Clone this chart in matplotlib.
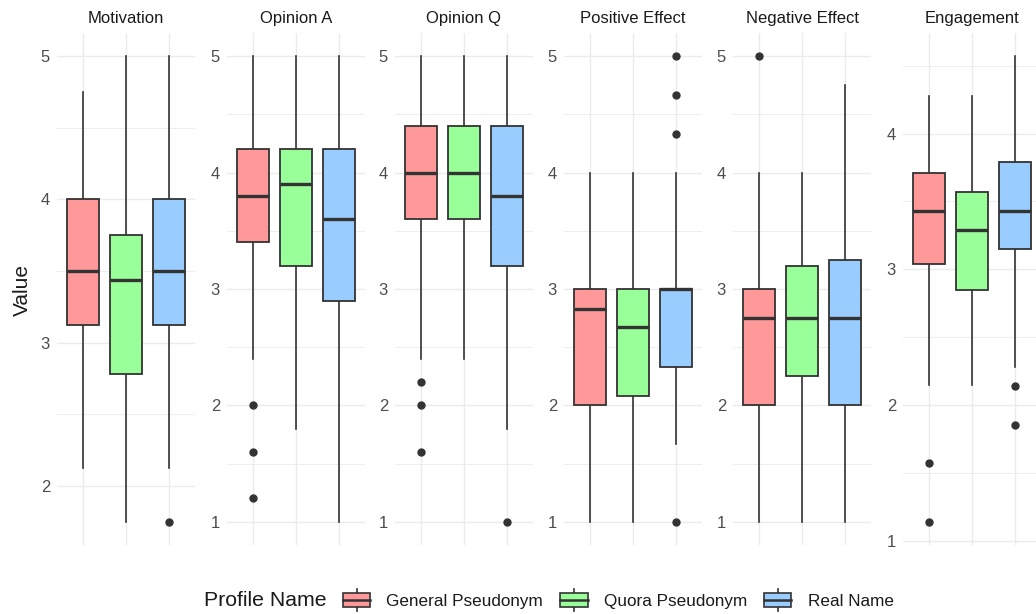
import numpy as np
import matplotlib
matplotlib.use('Agg')
from matplotlib import pyplot as plt
from matplotlib.patches import Patch, Rectangle
from matplotlib.lines import Line2D
from matplotlib.legend_handler import HandlerBase
from matplotlib.offsetbox import HPacker

plt.rcParams['font.family'] = ['Liberation Sans', 'DejaVu Sans']

groups = ['General Pseudonym', 'Quora Pseudonym', 'Real Name']
fills = ['#FF9999', '#99FF99', '#99CCFF']
metrics = ['Motivation', 'Opinion A', 'Opinion Q', 'Positive Effect', 'Negative Effect', 'Engagement']

# each row: lower whisker, Q1, median, Q3, upper whisker (one row per group)
motivation = [[2.125, 3.125, 3.5, 4.0, 4.75],
              [1.75, 2.78, 3.44, 3.75, 5.0],
              [2.125, 3.125, 3.5, 4.0, 5.0]]
motivation_out = [[], [], [1.75]]

opinion_a = [[2.4, 3.4, 3.8, 4.2, 5.0],
             [1.8, 3.2, 3.9, 4.2, 5.0],
             [1.0, 2.9, 3.6, 4.2, 5.0]]
opinion_a_out = [[2.0, 1.6, 1.2], [], []]

opinion_q = [[2.4, 3.6, 4.0, 4.4, 5.0],
             [2.4, 3.6, 4.0, 4.4, 5.0],
             [1.8, 3.2, 3.8, 4.4, 5.0]]
opinion_q_out = [[2.2, 2.0, 1.6], [], [1.0]]

positive = [[1.0, 2.0, 2.83, 3.0, 4.0],
            [1.0, 2.08, 2.67, 3.0, 4.0],
            [1.67, 2.33, 3.0, 3.0, 4.0]]
positive_out = [[], [], [5.0, 4.67, 4.33, 1.0]]

negative = [[1.0, 2.0, 2.75, 3.0, 4.0],
            [1.0, 2.25, 2.75, 3.2, 4.0],
            [1.0, 2.0, 2.75, 3.25, 4.75]]
negative_out = [[5.0], [], []]

engagement = [[2.15, 3.04, 3.43, 3.71, 4.28],
              [2.15, 2.85, 3.29, 3.57, 4.28],
              [2.28, 3.15, 3.43, 3.79, 4.57]]
engagement_out = [[1.57, 1.14], [], [2.14, 1.85]]

all_stats = [motivation, opinion_a, opinion_q, positive, negative, engagement]
all_out = [motivation_out, opinion_a_out, opinion_q_out, positive_out, negative_out, engagement_out]

edge = '#333333'
gridc = '#EBEBEB'

W, H = 1036, 614
fig = plt.figure(figsize=(W/100, H/100), dpi=100)

lefts = [57, 227, 395, 564, 733, 903]
pw = 138
ptop, pbot = 33, 545

for i, name in enumerate(metrics):
    ax = fig.add_axes([lefts[i]/W, (H-pbot)/H, pw/W, (pbot-ptop)/H])
    st = all_stats[i]
    outs = all_out[i]
    bxp = []
    for g in range(3):
        lo, q1, med, q3, hi = st[g]
        bxp.append(dict(whislo=lo, q1=q1, med=med, q3=q3, whishi=hi, fliers=outs[g], label=groups[g]))
    res = ax.bxp(bxp, positions=[1, 2, 3], widths=0.75, patch_artist=True, showcaps=False,
                 boxprops=dict(edgecolor=edge, linewidth=1.3),
                 whiskerprops=dict(color=edge, linewidth=1.2),
                 medianprops=dict(color=edge, linewidth=2.4, solid_capstyle='butt'),
                 flierprops=dict(marker='o', markerfacecolor=edge, markeredgecolor=edge, markersize=5),
                 zorder=3)
    for b, c in zip(res['boxes'], fills):
        b.set_facecolor(c)
        b.set_zorder(3)
    for wl in res['whiskers']:
        wl.set_zorder(2)

    vals = [v for row in st for v in row] + [v for row in outs for v in row]
    lo, hi = min(vals), max(vals)
    pad = 0.05*(hi-lo)
    ax.set_ylim(lo-pad, hi+pad)
    ax.set_xlim(0.4, 3.6)
    ticks = [t for t in range(1, 6) if lo-pad <= t <= hi+pad]
    ax.set_yticks(ticks)
    ax.set_yticks([t+0.5 for t in range(0, 5) if lo-pad <= t+0.5 <= hi+pad], minor=True)
    ax.set_xticks([1, 2, 3])
    ax.set_xticklabels([])
    ax.grid(True, which='major', color=gridc, linewidth=1.0, zorder=0)
    ax.grid(True, which='minor', axis='y', color=gridc, linewidth=0.6, zorder=0)
    ax.set_axisbelow(True)
    ax.tick_params(length=0, which='both', labelsize=12, labelcolor='#4D4D4D', pad=5)
    for s in ax.spines.values():
        s.set_visible(False)
    ax.set_title(name, fontsize=12, color='#1A1A1A', pad=7)

fig.text(22/W, 1-290/H, 'Value', rotation=90, ha='center', va='center', fontsize=15, color='#1A1A1A')


class BoxKey(HandlerBase):
    def create_artists(self, legend, orig_handle, xdescent, ydescent, width, height, fontsize, trans):
        x0 = -xdescent
        y0 = -ydescent
        cx = x0 + width/2
        cy = y0 + height/2
        bw = width
        bh = height*0.64
        rect = Rectangle((cx-bw/2, cy-bh/2), bw, bh, facecolor=orig_handle.get_facecolor(),
                         edgecolor=edge, linewidth=1.2, transform=trans)
        med = Line2D([cx-bw/2, cx+bw/2], [cy, cy], color=edge, linewidth=1.8, transform=trans)
        w1 = Line2D([cx, cx], [cy+bh/2, y0+height], color=edge, linewidth=1.2, transform=trans)
        w2 = Line2D([cx, cx], [cy-bh/2, y0], color=edge, linewidth=1.2, transform=trans)
        return [w1, w2, rect, med]


handles = [Patch(facecolor=c) for c in fills]
leg = fig.legend(handles, groups, handler_map={Patch: BoxKey()}, loc='center', bbox_to_anchor=(549/W, 1-600/H),
                 ncol=3, frameon=False, fontsize=12.3, handlelength=1.6, handleheight=1.65,
                 handletextpad=0.95, columnspacing=1.0, title='Profile Name')
# put title on the left of the entries
title_box = leg._legend_title_box
entries = leg._legend_handle_box
leg._legend_box._children = [HPacker(pad=0, sep=11.5, children=[title_box, entries], align='center')]
leg.get_title().set_fontsize(15.3)
leg.get_title().set_color('#1A1A1A')
for t in leg.get_texts():
    t.set_color('#1A1A1A')

fig.savefig('out.png', dpi=100)
